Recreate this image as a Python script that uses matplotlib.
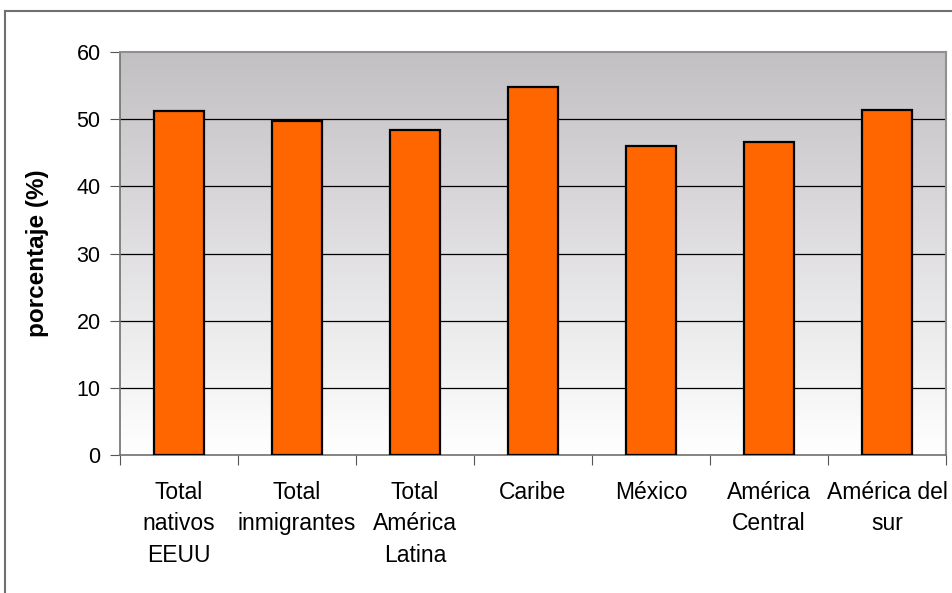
import matplotlib
matplotlib.use("Agg")
import matplotlib.pyplot as plt
import numpy as np
from matplotlib.colors import LinearSegmentedColormap
from matplotlib.lines import Line2D

categories = ["Total\nnativos\nEEUU", "Total\ninmigrantes", "Total\nAmérica\nLatina",
              "Caribe", "México", "América\nCentral", "América del\nsur"]
values = [51.2, 49.8, 48.4, 54.8, 46.0, 46.6, 51.3]
yticks = [0, 10, 20, 30, 40, 50, 60]

plt.rcParams['font.family'] = ['Liberation Sans', 'DejaVu Sans']

fig = plt.figure(figsize=(9.52, 5.93), dpi=100)
ax = fig.add_axes([120/952, 1-455/593, 826/952, 403/593])

n = len(categories)
ax.set_xlim(0, n)
ax.set_ylim(0, 60)

# gradient background
grad = np.linspace(0, 1, 256).reshape(-1, 1)
cmap = LinearSegmentedColormap.from_list("bg", ["#ffffff", "#c3c0c4"])
ax.imshow(grad, cmap=cmap, aspect='auto', extent=(0, n, 0, 60), origin='lower', zorder=0)

for y in yticks[1:-1]:
    ax.axhline(y, color='black', lw=0.9, zorder=1)

x = np.arange(n) + 0.5
ax.bar(x, values, width=0.43, color='#ff6600', edgecolor='black', linewidth=1.6, zorder=3)

ax.set_yticks(yticks)
ax.set_yticklabels([str(v) for v in yticks], fontsize=15.5)
ax.set_xticks(np.arange(n + 1))
ax.set_xticklabels([])
ax.set_xticks(x, minor=True)
ax.set_xticklabels(categories, minor=True, fontsize=16.5, linespacing=1.45, va='top')
ax.tick_params(axis='x', which='minor', length=0, pad=19)
ax.tick_params(axis='x', which='major', length=7, direction='out', color='#555555')
ax.tick_params(axis='y', length=7, direction='out', color='#555555', pad=7)

for s in ['top', 'right']:
    ax.spines[s].set_color('#909090')
    ax.spines[s].set_linewidth(1.5)
ax.spines['left'].set_color('#707070')
ax.spines['bottom'].set_color('#707070')
ax.spines['left'].set_linewidth(1.2)
ax.spines['bottom'].set_linewidth(1.2)

ax.set_ylabel("porcentaje (%)", fontsize=17.5, fontweight='bold', labelpad=20)

# outer chart border
fig.add_artist(Line2D([5/952, 5/952], [0, 1-11/593], transform=fig.transFigure, color='#707070', lw=1.5))
fig.add_artist(Line2D([5/952, 1], [1-11/593, 1-11/593], transform=fig.transFigure, color='#707070', lw=1.5))

fig.savefig("out.png", dpi=100, facecolor='white')
